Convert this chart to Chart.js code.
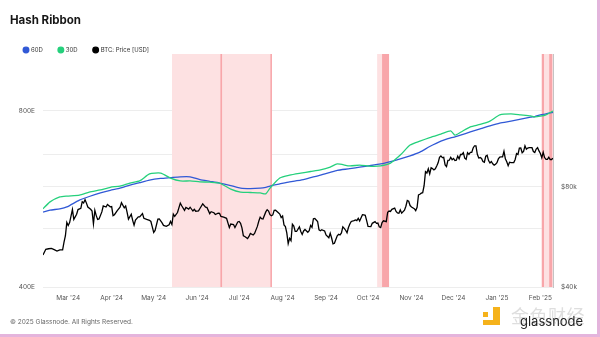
<!DOCTYPE html>
<html>
<head>
<meta charset="utf-8">
<title>Hash Ribbon</title>
<script src="https://cdn.jsdelivr.net/npm/chart.js@4.4.1/dist/chart.umd.min.js"></script>
<style>
    html, body { margin: 0; padding: 0; background: #fff; }
    body { width: 600px; height: 337px; position: relative; overflow: hidden; font-family: Inter, "Noto Sans", sans-serif; }
    #wrap { position: absolute; left: 0; top: 0; width: 600px; height: 337px; }
    #title { position: absolute; left: 10px; top: 13px; font-size: 11.5px; font-weight: 700; color: #161616; }
    #footer { position: absolute; left: 10px; top: 318px; font-size: 6.5px; color: #666; }
    .logo { position: absolute; background: #f5b21b; }
    #logo1 { left: 483px; top: 312px; width: 5px; height: 5px; }
    #logo2 { left: 493px; top: 307px; width: 7px; height: 18px; }
    #logo3 { left: 483px; top: 320px; width: 17px; height: 5px; }
    #mark { position: absolute; left: 511px; top: 302px; font-size: 18px; color: #dedede; font-family: "Noto Sans CJK SC", sans-serif; letter-spacing: 0.5px; }
    #brand { position: absolute; left: 520px; top: 313px; font-size: 13px; color: #222; }
    #edgeR { position: absolute; left: 597px; top: 0; width: 3px; height: 337px; background: #e4b4dc; }
    #edgeB { position: absolute; left: 0; top: 334px; width: 600px; height: 3px; background: #e4b4dc; }
</style>
</head>
<body>
<div id="wrap"><canvas id="hashChart" width="600" height="337"></canvas></div>
<div id="title">Hash Ribbon</div>
<div id="footer">© 2025 Glassnode. All Rights Reserved.</div>
<div class="logo" id="logo1"></div><div class="logo" id="logo2"></div><div class="logo" id="logo3"></div>
<div id="mark">金色财经</div>
<div id="brand">glassnode</div>
<div id="edgeR"></div><div id="edgeB"></div>
<script>
// day 0 = 2024-02-12
const monthDays = [18, 49, 79, 110, 140, 171, 202, 232, 263, 293, 324, 355];
const monthLabels = ["Mar '24", "Apr '24", "May '24", "Jun '24", "Jul '24", "Aug '24", "Sep '24", "Oct '24", "Nov '24", "Dec '24", "Jan '25", "Feb '25"];

const hashTicks = [400, 800];           // E (EH/s), left axis
const priceGrid = [40, 60, 80, 100];     // $k, right axis grid
const priceLabels = [40, 80];

const hashDays = [0,5,12,17,26,33,41,48,55,62,69,76,84,91,98,105,112,119,126,134,141,148,155,159,162,169,176,184,191,198,205,210,219,226,234,241,248,255,262,269,276,284,291,294,298,305,312,319,326,334,341,348,351,355,359,364];
const hash60 = [537,541,544,548,563,571,579,585,590,597,603,609,613,615,617,617,610,606,602,596,590,589,590,592,595,600,605,609,615,621,628,633,637,641,645,649,655,662,670,680,695,710,719,722,727,736,745,754,762,768,774,780,782,787,790,795];
const hash30 = [544,559,570,572,574,581,586,592,595,602,607,624,626,614,607,607,605,604,602,588,581,580,579,577,590,614,621,626,630,634,641,649,644,646,643,644,651,672,699,710,720,730,739,727,735,751,758,768,787,790,787,784,781,783,787,799];

// [day, BTC price in $k]
const btcPrice = [[0,49.9],[2,51.9],[4,52.1],[6,52.2],[8,51.8],[10,51.3],[12,51.7],[14,51.7],[15,54.5],[16,57.0],[17,62.5],[18,61.2],[19,62.4],[21,68.3],[22,63.8],[24,66.1],[25,68.3],[27,68.9],[28,72.1],[29,71.5],[30,73.1],[31,71.4],[32,69.5],[34,68.4],[35,67.6],[36,61.9],[37,67.9],[38,65.5],[39,63.8],[40,64.0],[42,67.2],[43,70.0],[45,69.5],[46,70.7],[48,69.6],[49,69.7],[50,65.5],[51,65.9],[53,67.8],[55,69.4],[56,71.6],[58,69.1],[59,70.0],[60,67.1],[61,63.9],[63,66.1],[64,63.4],[65,61.3],[66,63.5],[68,64.9],[69,64.9],[71,66.4],[72,64.3],[74,63.8],[76,63.4],[77,62.9],[78,60.6],[79,58.3],[80,59.1],[82,63.9],[83,64.0],[85,62.3],[86,61.2],[88,60.8],[90,61.5],[91,62.9],[92,61.6],[93,66.2],[94,65.2],[96,66.9],[98,71.4],[99,70.1],[101,67.9],[102,69.3],[104,68.5],[105,69.4],[107,67.6],[108,68.4],[109,67.5],[111,67.7],[112,68.8],[114,71.0],[116,69.4],[117,69.3],[119,66.4],[120,67.3],[122,66.8],[123,66.0],[125,66.6],[126,66.5],[127,65.1],[129,64.8],[131,64.3],[133,60.3],[134,61.8],[136,61.6],[137,60.3],[139,62.7],[140,62.9],[141,62.1],[142,60.2],[143,57.0],[144,56.7],[146,55.9],[147,56.7],[148,57.9],[150,57.3],[151,57.9],[153,60.8],[154,63.0],[155,64.8],[156,64.1],[157,64.0],[159,67.2],[160,68.2],[161,67.6],[162,65.9],[163,65.4],[164,65.8],[165,67.9],[166,68.0],[168,66.8],[169,66.2],[170,64.6],[171,65.3],[172,61.4],[173,60.7],[174,58.1],[175,54.0],[176,56.0],[177,55.1],[178,61.7],[179,60.9],[180,58.7],[181,58.7],[183,60.6],[184,58.7],[185,57.5],[186,58.9],[187,59.5],[189,58.4],[190,59.0],[191,61.2],[192,60.4],[193,64.1],[194,64.2],[196,62.9],[197,59.4],[198,59.0],[199,59.4],[200,59.1],[201,58.9],[202,57.3],[204,56.2],[205,58.0],[206,56.1],[207,53.9],[208,54.1],[210,57.0],[211,57.6],[212,57.3],[213,58.1],[214,60.6],[215,60.0],[216,59.2],[217,58.2],[218,60.3],[219,61.8],[220,62.9],[222,63.3],[223,63.6],[224,63.3],[225,64.3],[226,63.1],[228,65.9],[229,65.8],[230,65.6],[231,63.3],[232,60.8],[234,60.7],[235,62.1],[237,62.8],[238,62.1],[239,62.2],[240,60.6],[241,60.3],[242,62.4],[243,63.2],[245,62.8],[246,67.0],[247,67.6],[248,67.4],[249,68.4],[251,69.0],[252,67.4],[253,66.7],[254,66.6],[255,68.1],[256,66.6],[258,68.0],[259,69.9],[260,72.7],[261,72.3],[262,70.2],[263,69.5],[265,68.7],[266,67.8],[267,69.4],[268,75.6],[269,75.9],[270,76.5],[271,76.7],[272,80.5],[273,88.7],[274,87.9],[275,90.5],[276,87.4],[277,91.1],[278,90.6],[279,89.8],[280,90.5],[281,92.3],[282,94.3],[283,98.0],[284,98.9],[285,97.8],[286,98.0],[287,93.0],[288,91.9],[289,95.9],[290,96.0],[291,98.0],[292,96.4],[293,97.2],[294,95.8],[295,96.0],[296,98.8],[297,97.0],[298,99.9],[299,99.9],[300,101.2],[301,97.4],[302,96.6],[303,101.2],[304,100.0],[305,101.4],[306,101.4],[307,104.5],[308,106.1],[309,106.1],[310,100.0],[311,97.5],[312,97.8],[313,97.2],[314,95.1],[315,94.7],[316,98.7],[317,99.3],[318,95.8],[319,94.2],[320,95.2],[321,93.7],[322,92.8],[323,93.4],[324,94.4],[325,96.9],[326,98.1],[327,98.2],[328,98.3],[329,102.1],[330,96.9],[331,95.0],[332,92.5],[333,94.7],[334,94.5],[335,94.5],[336,94.5],[337,96.5],[338,100.5],[339,99.9],[340,104.4],[341,104.5],[342,101.1],[343,102.0],[344,106.1],[345,103.6],[346,104.4],[347,104.7],[348,104.8],[349,104.7],[350,102.0],[351,101.3],[352,103.7],[353,104.7],[354,102.4],[355,100.6],[356,97.7],[357,101.4],[358,97.8],[359,96.6],[360,96.6],[361,98.0],[362,96.5],[363,96.5],[364,97.4]];

// capitulation periods [startDay, endDay]
const ribbonLight = [[92, 163], [238.5, 242], [356, 364]];
const ribbonDark = [[126.5, 127.8], [162.3, 163.4], [242, 247], [356, 357.6], [361.3, 363.6]];

function bandPoints(ranges) {
    const pts = [];
    ranges.forEach(function(r) {
        pts.push({x: r[0], y: 0}, {x: r[0], y: 1}, {x: r[1], y: 1}, {x: r[1], y: 0});
    });
    return pts;
}

// squeeze legend so the plot starts right under it
const legendHeight = {
    id: 'legendHeight',
    beforeInit: function(chart) {
        const fit = chart.legend.fit;
        chart.legend.fit = function() {
            fit.bind(chart.legend)();
            this.height = 23;
        };
    }
};

const tickFont = {family: 'Inter', size: 6.5};

new Chart(document.getElementById('hashChart'), {
    type: 'line',
    data: {
        datasets: [
            {
                label: '60D',
                data: hashDays.map(function(d, i) { return {x: d, y: hash60[i]}; }),
                yAxisID: 'yH',
                borderColor: '#3159d6',
                backgroundColor: '#3159d6',
                borderWidth: 1.3,
                pointRadius: 0,
                tension: 0.2,
                order: 2
            },
            {
                label: '30D',
                data: hashDays.map(function(d, i) { return {x: d, y: hash30[i]}; }),
                yAxisID: 'yH',
                borderColor: '#25d07c',
                backgroundColor: '#25d07c',
                borderWidth: 1.3,
                pointRadius: 0,
                tension: 0.2,
                order: 1
            },
            {
                label: 'BTC: Price [USD]',
                data: btcPrice.map(function(p) { return {x: p[0], y: p[1]}; }),
                yAxisID: 'yP',
                borderColor: '#000000',
                backgroundColor: '#000000',
                borderWidth: 1.3,
                pointRadius: 0,
                tension: 0,
                order: 0
            },
            {
                label: 'light',
                data: bandPoints(ribbonLight),
                yAxisID: 'band',
                borderWidth: 0,
                pointRadius: 0,
                fill: 'origin',
                backgroundColor: '#fde1e2',
                order: 20
            },
            {
                label: 'dark',
                data: bandPoints(ribbonDark),
                yAxisID: 'band',
                borderWidth: 0,
                pointRadius: 0,
                fill: 'origin',
                backgroundColor: '#f8a6aa',
                order: 10
            }
        ]
    },
    options: {
        responsive: false,
        animation: false,
        layout: {padding: {left: 8, right: 0, top: 31, bottom: 0}},
        plugins: {
            title: {display: false},
            tooltip: {enabled: false},
            legend: {
                position: 'top',
                align: 'start',
                labels: {
                    filter: function(item) { return item.datasetIndex < 3; },
                    sort: function(a, b) { return a.datasetIndex - b.datasetIndex; },
                    usePointStyle: true,
                    pointStyle: 'circle',
                    boxWidth: 4,
                    boxHeight: 4,
                    padding: 16,
                    color: '#333',
                    font: {family: 'Inter', size: 6}
                }
            }
        },
        scales: {
            x: {
                type: 'linear',
                min: 0,
                max: 364,
                grid: {display: false, drawTicks: false},
                border: {display: false},
                afterBuildTicks: function(s) { s.ticks = monthDays.map(function(v) { return {value: v}; }); },
                afterFit: function(s) { s.height = 50; },
                ticks: {
                    autoSkip: false,
                    maxRotation: 0,
                    padding: 7,
                    color: '#555',
                    font: tickFont,
                    callback: function(v) { return monthLabels[monthDays.indexOf(v)]; }
                }
            },
            yH: {
                type: 'logarithmic',
                position: 'left',
                min: 400,
                max: 1000,
                grid: {color: '#ededed', drawTicks: false},
                border: {display: false},
                afterBuildTicks: function(s) { s.ticks = hashTicks.map(function(v) { return {value: v}; }); },
                afterFit: function(s) { s.width = 35; },
                ticks: {
                    padding: 8,
                    color: '#555',
                    font: tickFont,
                    callback: function(v) { return v + 'E'; }
                }
            },
            yP: {
                type: 'logarithmic',
                position: 'right',
                min: 40,
                max: 200,
                grid: {color: '#ededed', drawTicks: false},
                border: {display: true, color: '#c4c4c4'},
                afterBuildTicks: function(s) { s.ticks = priceGrid.map(function(v) { return {value: v}; }); },
                afterFit: function(s) { s.width = 47; },
                ticks: {
                    padding: 8,
                    color: '#555',
                    font: tickFont,
                    callback: function(v) { return priceLabels.indexOf(v) >= 0 ? '$' + v + 'k' : ''; }
                }
            },
            band: {
                type: 'linear',
                min: 0,
                max: 1,
                display: false
            }
        }
    },
    plugins: [legendHeight]
});
</script>
</body>
</html>
